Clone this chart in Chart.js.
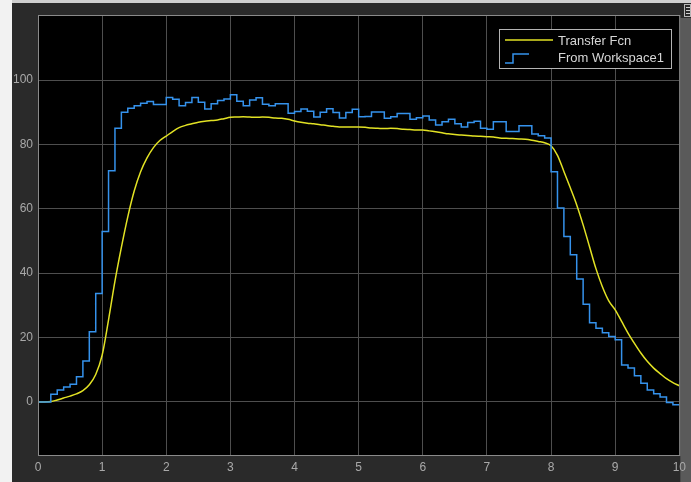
<!DOCTYPE html>
<html>
<head>
<meta charset="utf-8">
<script src="https://cdn.jsdelivr.net/npm/chart.js@4.4.1/dist/chart.umd.min.js"></script>
<style>
  html, body { margin: 0; padding: 0; background: #2a2a2a; }
  canvas { display: block; }
</style>
</head>
<body>
<canvas id="scope" width="691" height="482"></canvas>
<script>
// sample times (s)
var times = [
  0.0, 0.1, 0.2, 0.3, 0.4, 0.5, 0.6, 0.7, 0.8, 0.9,
  1.0, 1.1, 1.2, 1.3, 1.4, 1.5, 1.6, 1.7, 1.8, 1.9,
  2.0, 2.1, 2.2, 2.3, 2.4, 2.5, 2.6, 2.7, 2.8, 2.9,
  3.0, 3.1, 3.2, 3.3, 3.4, 3.5, 3.6, 3.7, 3.8, 3.9,
  4.0, 4.1, 4.2, 4.3, 4.4, 4.5, 4.6, 4.7, 4.8, 4.9,
  5.0, 5.1, 5.2, 5.3, 5.4, 5.5, 5.6, 5.7, 5.8, 5.9,
  6.0, 6.1, 6.2, 6.3, 6.4, 6.5, 6.6, 6.7, 6.8, 6.9,
  7.0, 7.1, 7.2, 7.3, 7.4, 7.5, 7.6, 7.7, 7.8, 7.9,
  8.0, 8.1, 8.2, 8.3, 8.4, 8.5, 8.6, 8.7, 8.8, 8.9,
  9.0, 9.1, 9.2, 9.3, 9.4, 9.5, 9.6, 9.7, 9.8, 9.9,
  10.0
];

// Transfer Fcn output (smooth)
var transferFcn = [
  0, 0, 0.1, 0.6, 1.2, 1.8, 2.5, 3.5, 5.3, 8.5,
  14.5, 25.5, 37.5, 48, 57.5, 65.5, 71.5, 75.8, 79, 81.2,
  82.6, 84, 85.2, 85.9, 86.4, 86.9, 87.2, 87.4, 87.6, 88,
  88.4, 88.5, 88.6, 88.5, 88.4, 88.5, 88.4, 88.2, 88.1, 87.8,
  87.3, 86.9, 86.6, 86.4, 86.1, 85.9, 85.6, 85.4, 85.4, 85.4,
  85.4, 85.3, 85.1, 85.0, 84.9, 85.0, 84.9, 84.7, 84.6, 84.5,
  84.5, 84.2, 83.9, 83.6, 83.3, 83.1, 82.9, 82.8, 82.6, 82.5,
  82.4, 82.3, 82.0, 81.9, 81.8, 81.7, 81.6, 81.3, 80.9, 80.5,
  79.6, 76.6, 71.6, 66.5, 61.2, 55, 48.2, 41.4, 35.8, 31.4,
  28.6, 25.0, 21.4, 18.2, 15.2, 12.6, 10.5, 8.8, 7.2, 6.0,
  5.0
];

// From Workspace1 (zero-order hold)
var fromWorkspace = [
  0, 0, 2.4, 3.7, 4.6, 5.5, 7.8, 12.7, 21.8, 33.7,
  52.9, 71.8, 85.0, 90.0, 91.2, 92.0, 92.8, 93.3, 92.4, 92.4,
  94.6, 94.0, 92.0, 93.0, 94.6, 93.1, 91.0, 92.6, 93.6, 94.1,
  95.4, 93.4, 92.0, 93.8, 94.5, 92.5, 92.0, 92.6, 92.6, 89.7,
  90.2, 91.0, 90.3, 88.5, 90.0, 91.1, 89.9, 88.2, 89.9, 90.9,
  88.6, 88.7, 90.1, 90.1, 88.1, 88.6, 89.6, 89.6, 87.8, 88.3,
  88.8, 87.6, 86.0, 87.0, 87.8, 86.4, 85.4, 86.8, 87.2, 85.0,
  84.7, 87.0, 87.0, 84.0, 84.0, 85.8, 85.8, 83.2, 82.7, 82.0,
  71.5, 60.2, 51.4, 45.7, 38.2, 30.3, 24.6, 22.9, 21.5, 20.3,
  19.3, 11.5, 10.5, 8.1, 5.8, 3.7, 2.5, 1.5, -0.2, -0.9,
  -0.9
];

var xTicks = [0, 1, 2, 3, 4, 5, 6, 7, 8, 9, 10];
var yTicks = [0, 20, 40, 60, 80, 100];
var seriesNames = ['Transfer Fcn', 'From Workspace1'];

var yellow = '#e2e224';
var blue = '#3592ec';
var frameColor = '#2a2a2a';
var gridColor = '#4e4e4e';
var tickColor = '#a9a9a9';
var fontFamily = '"Liberation Sans", Arial, sans-serif';

function toPoints(vals) {
  return vals.map(function(v, i) { return { x: times[i], y: v }; });
}

// background, frame and axes box
var scopeFrame = {
  id: 'scopeFrame',
  beforeDraw: function(chart) {
    var ctx = chart.ctx, a = chart.chartArea;
    ctx.save();
    ctx.fillStyle = frameColor;
    ctx.fillRect(0, 0, chart.width, chart.height);
    ctx.fillStyle = '#f2f2f2';
    ctx.fillRect(0, 0, 12, chart.height);
    ctx.fillStyle = '#cfcfcf';
    ctx.fillRect(12, 0, chart.width - 12, 3);
    ctx.fillStyle = '#000';
    ctx.fillRect(a.left, a.top, a.right - a.left, a.bottom - a.top);
    ctx.fillStyle = '#5a5a5a';
    ctx.fillRect(a.right + 1, 18, chart.width - a.right - 1, chart.height - 18);
    ctx.restore();
  },
  afterDraw: function(chart) {
    var ctx = chart.ctx, a = chart.chartArea;
    ctx.save();
    // axes box
    ctx.strokeStyle = '#8a8a8a';
    ctx.lineWidth = 1;
    ctx.strokeRect(a.left + 0.5, a.top + 0.5, a.right - a.left, a.bottom - a.top);

    // little icon top right
    ctx.strokeStyle = '#b8b8b8';
    ctx.strokeRect(684.5, 4.5, 6, 12);
    ctx.fillStyle = '#d0d0d0';
    ctx.fillRect(686, 7, 4, 1);
    ctx.fillRect(686, 10, 4, 1);
    ctx.fillRect(686, 13, 4, 1);

    // legend
    var lx = 499.5, ly = 29.5, lw = 172, lh = 39;
    ctx.fillStyle = '#000';
    ctx.fillRect(lx, ly, lw, lh);
    ctx.strokeStyle = '#b4b4b4';
    ctx.strokeRect(lx, ly, lw, lh);

    ctx.lineWidth = 1.5;
    ctx.strokeStyle = yellow;
    ctx.beginPath();
    ctx.moveTo(505, 40);
    ctx.lineTo(553, 40);
    ctx.stroke();

    ctx.strokeStyle = blue;
    ctx.beginPath();
    ctx.moveTo(505, 63);
    ctx.lineTo(513, 63);
    ctx.lineTo(513, 54);
    ctx.lineTo(529, 54);
    ctx.stroke();

    ctx.fillStyle = '#d6d6d6';
    ctx.font = '13px ' + fontFamily;
    ctx.textBaseline = 'middle';
    ctx.textAlign = 'left';
    ctx.fillText(seriesNames[0], 558, 41);
    ctx.fillText(seriesNames[1], 558, 58);
    ctx.restore();
  }
};

new Chart(document.getElementById('scope'), {
  type: 'line',
  data: {
    datasets: [{
      label: seriesNames[1],
      data: toPoints(fromWorkspace),
      borderColor: blue,
      borderWidth: 1.5,
      stepped: true,
      pointRadius: 0,
      fill: false,
      order: 1
    }, {
      label: seriesNames[0],
      data: toPoints(transferFcn),
      borderColor: yellow,
      borderWidth: 1.5,
      cubicInterpolationMode: 'monotone',
      pointRadius: 0,
      fill: false,
      order: 2
    }]
  },
  options: {
    responsive: false,
    animation: false,
    devicePixelRatio: 1,
    layout: { padding: { left: 0, top: 15, right: 7, bottom: 0 } },
    plugins: {
      legend: { display: false },
      tooltip: { enabled: false }
    },
    scales: {
      x: {
        type: 'linear',
        min: 0,
        max: 10,
        afterBuildTicks: function(scale) {
          scale.ticks = xTicks.map(function(v) { return { value: v }; });
        },
        afterFit: function(scale) { scale.height = 27; },
        grid: { color: gridColor, drawTicks: false },
        border: { display: false },
        ticks: {
          color: tickColor,
          padding: 5,
          maxRotation: 0,
          font: { size: 12, family: fontFamily }
        }
      },
      y: {
        min: -16.5,
        max: 120.2,
        afterBuildTicks: function(scale) {
          scale.ticks = yTicks.map(function(v) { return { value: v }; });
        },
        afterFit: function(scale) { scale.width = 38; },
        grid: { color: gridColor, drawTicks: false },
        border: { display: false },
        ticks: {
          color: tickColor,
          padding: 5,
          font: { size: 12, family: fontFamily }
        }
      }
    }
  },
  plugins: [scopeFrame]
});
</script>
</body>
</html>
